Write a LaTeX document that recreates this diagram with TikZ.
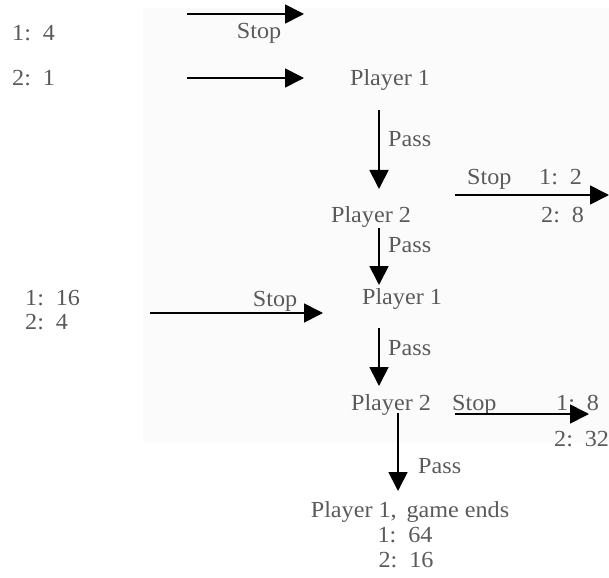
\documentclass[tikz,border=0pt]{standalone}
\usepackage{fontspec}
\setmainfont{Liberation Serif}[FakeStretch=1.05]
\usetikzlibrary{arrows.meta}
\definecolor{labelgray}{HTML}{5A5A5A}
\definecolor{panelgray}{HTML}{FBFBFB}
\begin{document}
\begin{tikzpicture}[x=1pt,y=-1pt,
  txt/.style={inner sep=0pt,text=labelgray,font=\fontsize{23}{27}\selectfont,anchor=base},
  txtw/.style={txt,anchor=base west},
  move/.style={draw=black,line width=1.7pt,-{Triangle[length=19pt,width=19pt]}}]
\useasboundingbox (0,0) rectangle (609,577);
\fill[panelgray] (143,8) rectangle (609,443);

% payoffs and player labels
\node[txtw] (p14)  at (12,41)  {1:\, 4};
\node[txtw] (p21)  at (12,86)  {2:\, 1};
\node[txt]  (s0)   at (259,39) {Stop};
\node[txt]  (pl1a) at (390,86) {Player 1};
\node[txtw] (ps1)  at (388,147) {Pass};
\node[txtw] (s1)   at (467,185) {Stop};
\node[txtw] (p12)  at (539,185) {1:\, 2};
\node[txtw] (p28)  at (541,222) {2:\, 8};
\node[txt]  (pl2a) at (371,222) {Player 2};
\node[txtw] (ps2)  at (388,252) {Pass};
\node[txt]  (pl1b) at (402,304) {Player 1};
\node[txtw] (p116) at (25,305) {1:\, 16};
\node[txtw] (p24)  at (25,329) {2:\, 4};
\node[txt]  (s2)   at (275,306) {Stop};
\node[txtw] (ps3)  at (388,355) {Pass};
\node[txt]  (pl2b) at (391,410) {Player 2};
\node[txtw] (s3)   at (452,410) {Stop};
\node[txtw] (p18)  at (556,410) {1:\, 8};
\node[txtw] (p232) at (554,446) {2:\, 32};
\node[txtw] (ps4)  at (418,473) {Pass};
\node[txt]  (end)  at (410,517) {Player 1,\, game ends};
\node[txt]  (p164) at (405,542) {1:\, 64};
\node[txt]  (p216) at (406,567) {2:\, 16};

% arrow end points
\coordinate (a0s) at (187,14);  \coordinate (a0e) at (304,14);
\coordinate (a1s) at (187,78);  \coordinate (a1e) at (304,78);
\coordinate (v1s) at (379,110); \coordinate (v1e) at (379,189);
\coordinate (h1s) at (455,195); \coordinate (h1e) at (609,195);
\coordinate (v2s) at (379,228); \coordinate (v2e) at (379,285);
\coordinate (h2s) at (150,313); \coordinate (h2e) at (323,313);
\coordinate (v3s) at (379,328); \coordinate (v3e) at (379,386);
\coordinate (h3s) at (455,414); \coordinate (h3e) at (589,414);
\coordinate (v4s) at (398,413); \coordinate (v4e) at (398,491);

\draw[move] (a0s) -- (a0e);
\draw[move] (a1s) -- (a1e);
\draw[move] (v1s) -- (v1e);
\draw[move] (h1s) -- (h1e);
\draw[move] (v2s) -- (v2e);
\draw[move] (h2s) -- (h2e);
\draw[move] (v3s) -- (v3e);
\draw[move] (h3s) -- (h3e);
\draw[move] (v4s) -- (v4e);
\end{tikzpicture}
\end{document}
